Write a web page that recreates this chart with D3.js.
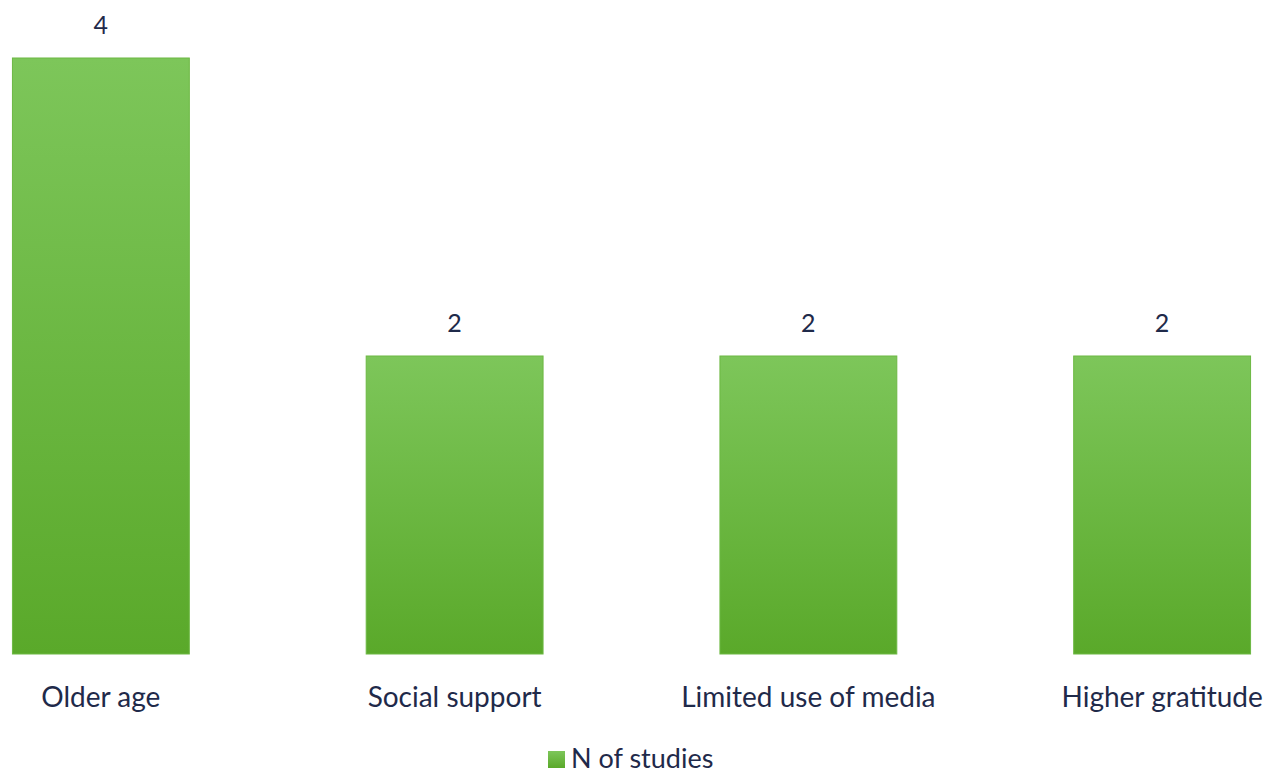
<!DOCTYPE html>
<html>
<head>
<meta charset="utf-8">
<script src="https://d3js.org/d3.v7.min.js"></script>
<style>
  body { margin: 0; background: #fff; }
  text { font-family: Lato, "Open Sans", sans-serif; fill: #1f2a4a; }
</style>
</head>
<body>
<script>
// chart data
var categories = ["Older age", "Social support", "Limited use of media", "Higher gratitude"];
var studies = [4, 2, 2, 2];
var seriesName = "N of studies";

var width = 1266,
    height = 776;

var svg = d3.select("body").append("svg")
    .attr("width", width)
    .attr("height", height);

var defs = svg.append("defs");
var grad = defs.append("linearGradient")
    .attr("id", "barGrad")
    .attr("x1", 0).attr("y1", 0).attr("x2", 0).attr("y2", 1);
grad.append("stop").attr("offset", "0%").attr("stop-color", "#7dc65a");
grad.append("stop").attr("offset", "100%").attr("stop-color", "#5aa92a");

var x = d3.scaleBand()
    .domain(categories)
    .range([-76, 1339])
    .paddingInner(0.5)
    .paddingOuter(0.25);

var y = d3.scaleLinear()
    .domain([0, 4])
    .range([654, 58]);

var rows = categories.map(function(c, i) { return { name: c, value: studies[i] }; });

svg.selectAll(".bar")
    .data(rows)
  .enter().append("rect")
    .attr("class", "bar")
    .attr("x", function(d) { return x(d.name); })
    .attr("y", function(d) { return y(d.value); })
    .attr("width", x.bandwidth())
    .attr("height", function(d) { return y(0) - y(d.value); })
    .attr("fill", "url(#barGrad)")
    .attr("stroke", "#6cb843")
    .attr("stroke-width", 1);

// value labels
svg.selectAll(".val")
    .data(rows)
  .enter().append("text")
    .attr("class", "val")
    .attr("x", function(d) { return x(d.name) + x.bandwidth() / 2; })
    .attr("y", function(d) { return y(d.value) - 24; })
    .attr("text-anchor", "middle")
    .style("font-size", "25px")
    .text(function(d) { return d.value; });

// category labels
svg.selectAll(".cat")
    .data(rows)
  .enter().append("text")
    .attr("class", "cat")
    .attr("x", function(d) { return x(d.name) + x.bandwidth() / 2; })
    .attr("y", 707)
    .attr("text-anchor", "middle")
    .style("font-size", "28px")
    .text(function(d) { return d.name; });

// legend
var legend = svg.append("g").attr("transform", "translate(548,751)");
legend.append("rect")
    .attr("width", 17).attr("height", 17)
    .attr("fill", "url(#barGrad)");
legend.append("text")
    .attr("x", 23).attr("y", 17)
    .style("font-size", "27px")
    .text(seriesName);
</script>
</body>
</html>
